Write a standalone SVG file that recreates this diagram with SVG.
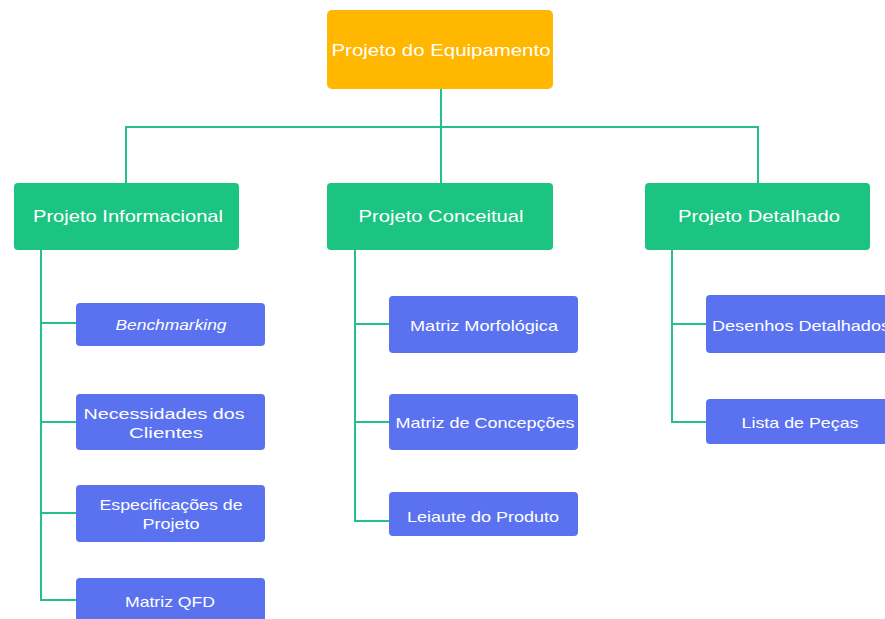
<svg xmlns="http://www.w3.org/2000/svg" width="885" height="619" viewBox="0 0 885 619">
<style>
.root{fill:#FFB700}
.l2{fill:#1CC482}
.l3{fill:#5A72F0}
.t{font-family:"Liberation Sans",Arial,sans-serif;fill:#fff;text-anchor:middle;dominant-baseline:central}
.t2{font-size:17px}
.t3{font-size:15px}
.c{fill:none;stroke:#25C189;stroke-width:2}
</style>
<rect width="885" height="619" fill="#fff"/>
<g id="connectors">
<path class="c" d="M441 89V127M126 183V127H758V183M441 127V183"/>
<path class="c" d="M41 250V600H76M41 323H76M41 422H76M41 513H76"/>
<path class="c" d="M355 250V521H389M355 324H389M355 422H389"/>
<path class="c" d="M672 250V422H706M672 324H706"/>
</g>
<g id="n-root"><rect class="root" x="327" y="10" width="226" height="79" rx="5"/><text class="t t2" x="441" y="50" textLength="219" lengthAdjust="spacingAndGlyphs">Projeto do Equipamento</text></g>
<g id="n-info"><rect class="l2" x="14" y="183" width="225" height="67" rx="4"/><text class="t t2" x="128" y="216" textLength="190" lengthAdjust="spacingAndGlyphs">Projeto Informacional</text></g>
<g id="n-conc"><rect class="l2" x="327" y="183" width="226" height="67" rx="4"/><text class="t t2" x="441" y="216" textLength="165" lengthAdjust="spacingAndGlyphs">Projeto Conceitual</text></g>
<g id="n-det"><rect class="l2" x="645" y="183" width="225" height="67" rx="4"/><text class="t t2" x="759" y="216" textLength="162" lengthAdjust="spacingAndGlyphs">Projeto Detalhado</text></g>
<g id="n-bench"><rect class="l3" x="76" y="303" width="189" height="43" rx="4"/><text class="t t3" x="171" y="324" font-style="italic" textLength="111" lengthAdjust="spacingAndGlyphs">Benchmarking</text></g>
<g id="n-nec"><rect class="l3" x="76" y="394" width="189" height="56" rx="4"/><text class="t t3" x="164" y="413" textLength="161" lengthAdjust="spacingAndGlyphs">Necessidades dos</text><text class="t t3" x="166" y="432" textLength="74" lengthAdjust="spacingAndGlyphs">Clientes</text></g>
<g id="n-esp"><rect class="l3" x="76" y="485" width="189" height="57" rx="4"/><text class="t t3" x="171" y="504" textLength="143" lengthAdjust="spacingAndGlyphs">Especificações de</text><text class="t t3" x="171" y="523" textLength="57" lengthAdjust="spacingAndGlyphs">Projeto</text></g>
<g id="n-qfd"><rect class="l3" x="76" y="578" width="189" height="45" rx="4"/><text class="t t3" x="170" y="601" textLength="90" lengthAdjust="spacingAndGlyphs">Matriz QFD</text></g>
<g id="n-morf"><rect class="l3" x="389" y="296" width="189" height="57" rx="4"/><text class="t t3" x="484" y="325" textLength="148" lengthAdjust="spacingAndGlyphs">Matriz Morfológica</text></g>
<g id="n-concep"><rect class="l3" x="389" y="394" width="189" height="56" rx="4"/><text class="t t3" x="485" y="422" textLength="179" lengthAdjust="spacingAndGlyphs">Matriz de Concepções</text></g>
<g id="n-leiaute"><rect class="l3" x="389" y="492" width="189" height="44" rx="4"/><text class="t t3" x="483" y="516" textLength="152" lengthAdjust="spacingAndGlyphs">Leiaute do Produto</text></g>
<g id="n-des"><rect class="l3" x="706" y="295" width="189" height="58" rx="4"/><text class="t t3" x="801" y="325" textLength="178" lengthAdjust="spacingAndGlyphs">Desenhos Detalhados</text></g>
<g id="n-lista"><rect class="l3" x="706" y="399" width="189" height="45" rx="4"/><text class="t t3" x="800" y="422" textLength="117" lengthAdjust="spacingAndGlyphs">Lista de Peças</text></g>
</svg>
